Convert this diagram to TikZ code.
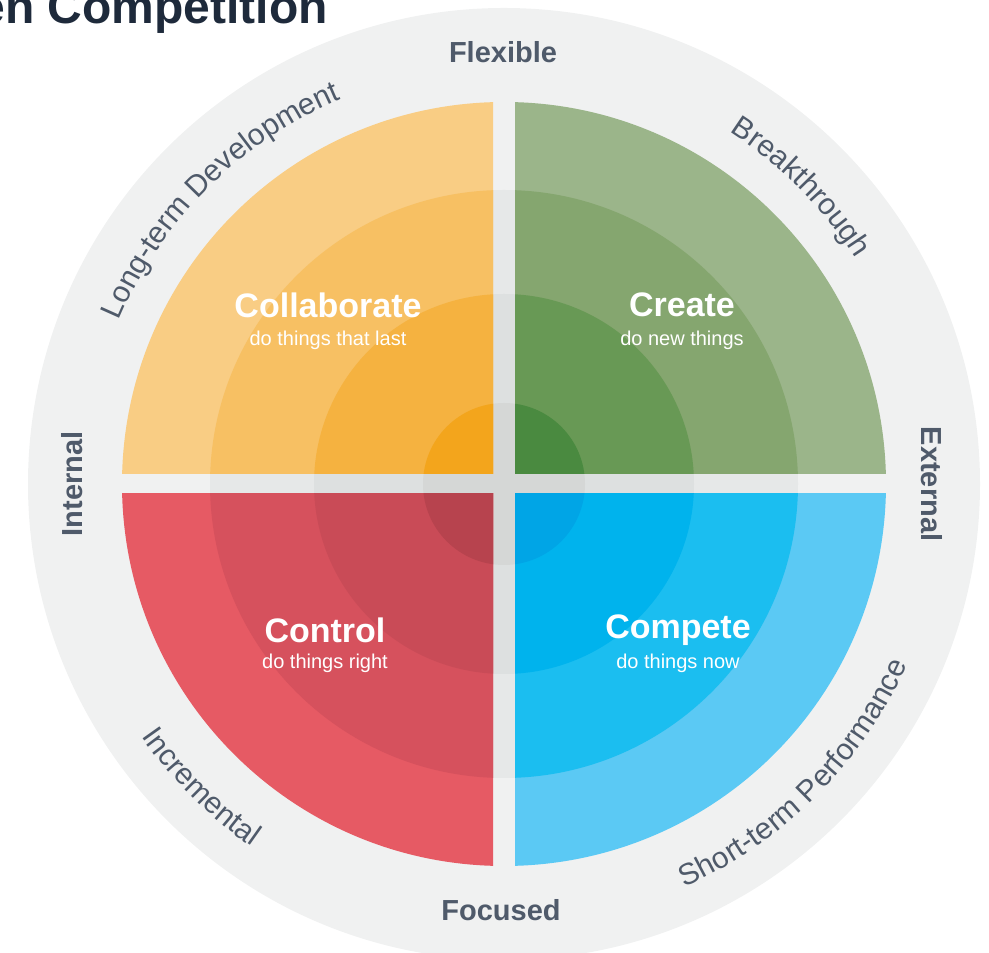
\documentclass[tikz,border=0pt]{standalone}
\usepackage{fontspec}
\setmainfont{Liberation Sans}
\usetikzlibrary{decorations.text}
\definecolor{ringA}{HTML}{F0F1F1}
\definecolor{gapB}{HTML}{E6E8E8}
\definecolor{gapC}{HTML}{DDE0E0}
\definecolor{gapD}{HTML}{D5D7D6}
\definecolor{orA}{HTML}{F9CD84}
\definecolor{orB}{HTML}{F7C063}
\definecolor{orC}{HTML}{F5B240}
\definecolor{orD}{HTML}{F3A51C}
\definecolor{grA}{HTML}{9BB58A}
\definecolor{grB}{HTML}{85A66F}
\definecolor{grC}{HTML}{689955}
\definecolor{grD}{HTML}{4A8A40}
\definecolor{rdA}{HTML}{E65A64}
\definecolor{rdB}{HTML}{D6515D}
\definecolor{rdC}{HTML}{C94B57}
\definecolor{rdD}{HTML}{B7434E}
\definecolor{blA}{HTML}{5BC9F4}
\definecolor{blB}{HTML}{1BBEF0}
\definecolor{blC}{HTML}{00B3ED}
\definecolor{blD}{HTML}{00A5E6}
\definecolor{labelc}{HTML}{4F5A6A}
\definecolor{titlec}{HTML}{1E2A3B}
\tikzset{
  qtitle/.style={font=\fontsize{34}{34}\selectfont\bfseries, text=white, inner sep=0},
  qsub/.style={font=\fontsize{20}{20}\selectfont, text=white, inner sep=0},
  axislabel/.style={font=\fontsize{29}{29}\selectfont\bfseries, text=labelc, inner sep=0},
  arclabel/.style={decorate, decoration={text along path, text align=center, text color=labelc}}
}
\newcommand{\arcfont}{\fontsize{30}{30}\selectfont}
\newcommand{\quadfill}[4]{%
  \fill[#1] (c) circle[radius=382];
  \fill[#2] (c) circle[radius=294];
  \fill[#3] (c) circle[radius=190];
  \fill[#4] (c) circle[radius=81];}
\begin{document}
\begin{tikzpicture}[x=1pt,y=1pt]
\useasboundingbox (0,0) rectangle (989,953);
\clip (0,0) rectangle (989,953);
\coordinate (c) at (504,469);
% background rings (also show in the gaps)
\fill[ringA] (c) circle[radius=476];
\fill[gapB] (c) circle[radius=294];
\fill[gapC] (c) circle[radius=190];
\fill[gapD] (c) circle[radius=81];
% quadrants
\begin{scope}
  \clip (0,479) rectangle (493,953);
  \quadfill{orA}{orB}{orC}{orD}
\end{scope}
\begin{scope}
  \clip (515,479) rectangle (989,953);
  \quadfill{grA}{grB}{grC}{grD}
\end{scope}
\begin{scope}
  \clip (0,0) rectangle (493,459);
  \quadfill{rdA}{rdB}{rdC}{rdD}
\end{scope}
\begin{scope}
  \clip (515,0) rectangle (989,459);
  \quadfill{blA}{blB}{blC}{blD}
\end{scope}
% title
\node[anchor=base east, font=\fontsize{48}{48}\selectfont\bfseries, text=titlec, inner sep=0] (title) at (328,929) {en Competition};
% quadrant labels
\node[qtitle] (collab) at (328,648) {Collaborate};
\node[qsub] (collabsub) at (328,613) {do things that last};
\node[qtitle] (create) at (682,648) {Create};
\node[qsub] (createsub) at (682,613) {do new things};
\node[qtitle] (control) at (325,323) {Control};
\node[qsub] (controlsub) at (325,290) {do things right};
\node[qtitle] (compete) at (678,323) {Compete};
\node[qsub] (competesub) at (678,290) {do things now};
% axis labels
\node[axislabel] (flexible) at (503,901) {Flexible};
\node[axislabel] (focused) at (501,43) {Focused};
\node[axislabel, rotate=90] (internal) at (72,469) {Internal};
\node[axislabel, rotate=-90] (external) at (932,469) {External};
% curved labels
\path[arclabel, decoration={text={|\arcfont|Long-term Development}}]
  (c) ++(170:418) arc[start angle=170, end angle=100, radius=418];
\path[arclabel, decoration={text={|\arcfont|Breakthrough}}]
  (c) ++(80:418) arc[start angle=80, end angle=10, radius=418];
\path[arclabel, decoration={text={|\arcfont|Short-term Performance}}]
  (c) ++(-80:442) arc[start angle=-80, end angle=-10, radius=442];
\path[arclabel, decoration={text={|\arcfont|Incremental}}]
  (c) ++(190:442) arc[start angle=190, end angle=260, radius=442];
\end{tikzpicture}
\end{document}
